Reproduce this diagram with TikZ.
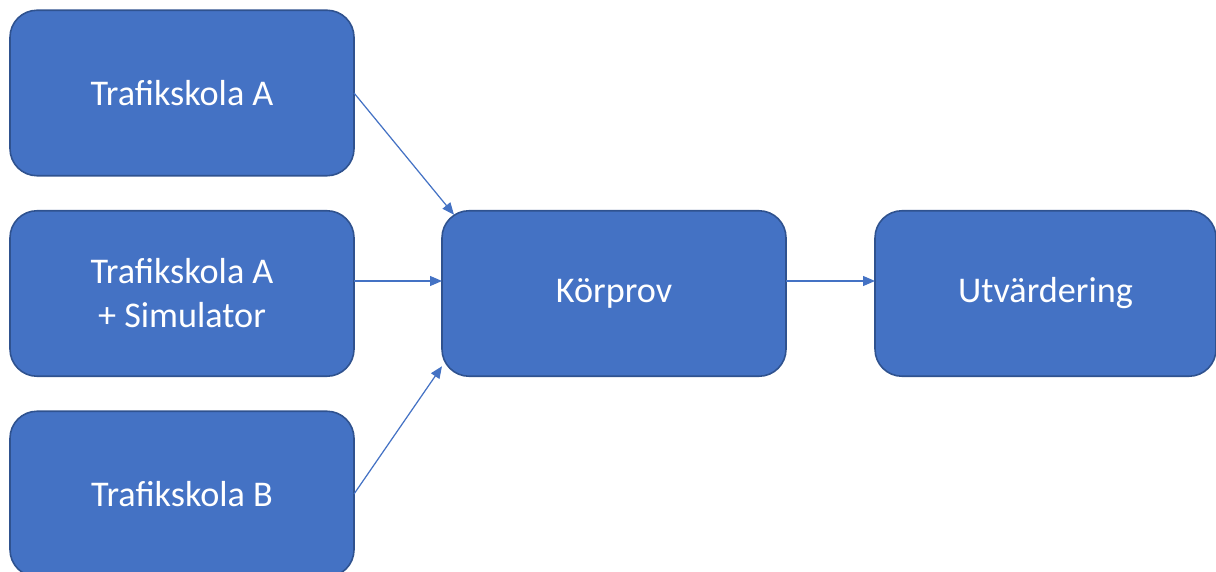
\documentclass[tikz,border=0pt]{standalone}
\usepackage{fontspec}
\setmainfont{Carlito}
\usepackage{tikz}
\usetikzlibrary{positioning,arrows.meta}

\definecolor{boxblue}{HTML}{4472C4}
\definecolor{boxedge}{HTML}{2F528F}

\begin{document}
\begin{tikzpicture}[
    block/.style={draw=boxedge, line width=0.45pt, fill=boxblue, rounded corners=0.27cm,
      minimum width=3.44cm, minimum height=1.655cm, outer sep=0pt, align=center,
      text=white, font=\fontsize{10.3}{12.5}\selectfont},
    flow/.style={draw=boxblue, line width=0.35pt,
      -{Triangle[length=0.12cm,width=0.1cm]}}
  ]
  \useasboundingbox (0,0) rectangle (12.16,-5.72);

  \node[block] (skolaA) at (1.82,-0.93) {Trafikskola A};
  \node[block, below=0.35cm of skolaA] (skolaAsim) {Trafikskola A\\+ Simulator};
  \node[block, below=0.35cm of skolaAsim] (skolaB) {Trafikskola B};
  \node[block, right=0.88cm of skolaAsim] (korprov) {Körprov};
  \node[block, right=0.89cm of korprov, minimum width=3.41cm] (utv) {Utvärdering};

  \draw[flow] (skolaA.east) -- ([shift={(0.12,-0.04)}]korprov.north west);
  \draw[flow] ([yshift=0.125cm]skolaAsim.east) -- ([yshift=0.125cm]korprov.west);
  \draw[flow] (skolaB.east) -- ([yshift=0.1cm]korprov.south west);
  \draw[flow] ([yshift=0.125cm]korprov.east) -- ([yshift=0.125cm]utv.west);
\end{tikzpicture}
\end{document}
